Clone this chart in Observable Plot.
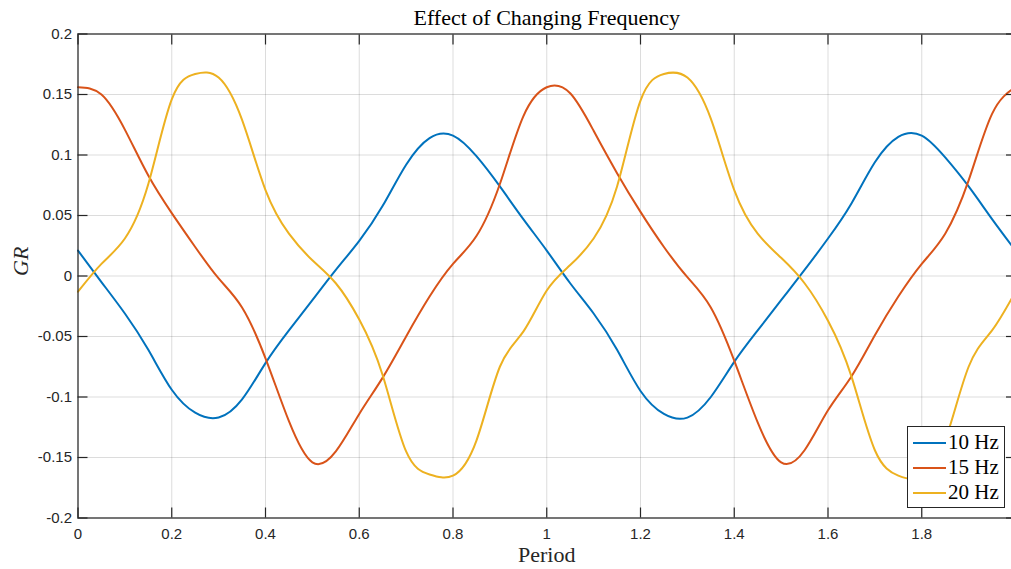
<!DOCTYPE html>
<html>
<head>
<meta charset="utf-8">
<script src="https://cdn.jsdelivr.net/npm/d3@7"></script>
<script src="https://cdn.jsdelivr.net/npm/@observablehq/plot@0.6"></script>
<style>
html, body { margin: 0; padding: 0; overflow: hidden; background: #fff; }
#chart { position: relative; width: 1020px; height: 569px; }
.legend { position: absolute; left: 907px; top: 426px; width: 98px; height: 82px; box-sizing: border-box;
  border: 1px solid #262626; background: #fff; padding-top: 3px; }
.legend .row { display: flex; align-items: center; height: 25px; }
.legend .sw { width: 33px; height: 2px; margin-left: 5px; margin-right: 2px; flex: none; }
.legend .lab { font-family: "Liberation Serif", serif; font-size: 21px; color: #000; line-height: 25px; white-space: nowrap; }
</style>
</head>
<body>
<div id="chart"></div>
<script>
// ---- data ----
const period = [0, 0.05, 0.1, 0.15, 0.2, 0.25, 0.3, 0.35, 0.4, 0.45, 0.5, 0.55, 0.6, 0.65, 0.7, 0.75, 0.8, 0.85, 0.9, 0.95,
  1.0, 1.05, 1.1, 1.15, 1.2, 1.25, 1.3, 1.35, 1.4, 1.45, 1.5, 1.55, 1.6, 1.65, 1.7, 1.75, 1.8, 1.85, 1.9, 1.95, 2.0];

const gr10Hz = [0.021, -0.005, -0.031, -0.061, -0.094, -0.113, -0.117, -0.102, -0.072, -0.045, -0.020, 0.005, 0.029, 0.058, 0.092, 0.114, 0.116, 0.099, 0.074, 0.047,
  0.021, -0.006, -0.031, -0.061, -0.095, -0.114, -0.117, -0.100, -0.071, -0.045, -0.020, 0.005, 0.031, 0.060, 0.094, 0.115, 0.116, 0.098, 0.074, 0.047, 0.021];

const gr15Hz = [0.156, 0.150, 0.121, 0.083, 0.052, 0.024, -0.002, -0.026, -0.068, -0.120, -0.154, -0.145, -0.114, -0.084, -0.050, -0.017, 0.010, 0.033, 0.076, 0.132,
  0.156, 0.151, 0.120, 0.085, 0.053, 0.024, -0.001, -0.026, -0.070, -0.121, -0.154, -0.144, -0.111, -0.083, -0.049, -0.017, 0.010, 0.035, 0.079, 0.134, 0.156];

const gr20Hz = [-0.013, 0.010, 0.031, 0.076, 0.146, 0.167, 0.164, 0.129, 0.071, 0.035, 0.013, -0.006, -0.036, -0.082, -0.145, -0.164, -0.165, -0.136, -0.075, -0.046,
  -0.012, 0.009, 0.031, 0.074, 0.145, 0.167, 0.164, 0.130, 0.071, 0.035, 0.015, -0.006, -0.037, -0.083, -0.144, -0.165, -0.166, -0.136, -0.075, -0.045, -0.013];

const seriesNames = ["10 Hz", "15 Hz", "20 Hz"];
const seriesColors = ["#0072BD", "#D95319", "#EDB120"];

const xTicks = [0, 0.2, 0.4, 0.6, 0.8, 1, 1.2, 1.4, 1.6, 1.8, 2];
const xTickLabels = ["0", "0.2", "0.4", "0.6", "0.8", "1", "1.2", "1.4", "1.6", "1.8", "2"];
const yTicks = [-0.2, -0.15, -0.1, -0.05, 0, 0.05, 0.1, 0.15, 0.2];
const yTickLabels = ["-0.2", "-0.15", "-0.1", "-0.05", "0", "0.05", "0.1", "0.15", "0.2"];

const titleText = "Effect of Changing Frequency";
const xLabel = "Period";
const yLabel = "GR";

// ---- build table ----
const seriesValues = [gr10Hz, gr15Hz, gr20Hz];
const rows = seriesNames.flatMap((name, i) =>
  period.map((p, j) => ({period: p, gr: seriesValues[i][j], series: name})));

const serif = "'Liberation Serif', 'Times New Roman', serif";
const axisColor = "#262626";

const chart = Plot.plot({
  width: 1020,
  height: 569,
  marginLeft: 77.5,
  marginRight: 5,
  marginTop: 33.5,
  marginBottom: 51.5,
  style: {fontFamily: "'Liberation Sans', Arial, sans-serif", fontSize: "15px", color: axisColor, background: "#fff"},
  x: {domain: [0, 2]},
  y: {domain: [-0.2, 0.2]},
  color: {domain: seriesNames, range: seriesColors},
  marks: [
    Plot.gridX(xTicks, {stroke: axisColor, strokeOpacity: 0.16, strokeWidth: 1}),
    Plot.gridY(yTicks, {stroke: axisColor, strokeOpacity: 0.16, strokeWidth: 1}),
    Plot.line(rows, {x: "period", y: "gr", z: "series", stroke: "series", curve: "natural", strokeWidth: 2}),
    Plot.frame({stroke: axisColor, strokeWidth: 1.2}),
    // inward tick marks on all four sides
    Plot.axisX(xTicks, {anchor: "bottom", tickSize: 10, dy: -10, fill: "none", label: null, stroke: axisColor, strokeWidth: 1.2}),
    Plot.axisX(xTicks, {anchor: "top", tickSize: 10, dy: 10, fill: "none", label: null, stroke: axisColor, strokeWidth: 1.2}),
    Plot.axisY(yTicks, {anchor: "left", tickSize: 10, dx: 10, fill: "none", label: null, stroke: axisColor, strokeWidth: 1.2}),
    Plot.axisY(yTicks, {anchor: "right", tickSize: 10, dx: -10, fill: "none", label: null, stroke: axisColor, strokeWidth: 1.2}),
    // tick labels
    Plot.axisX(xTicks, {anchor: "bottom", tickSize: 0, tickPadding: 10, label: null,
      tickFormat: d => xTickLabels[xTicks.indexOf(d)], fill: axisColor}),
    Plot.axisY(yTicks, {anchor: "left", tickSize: 0, tickPadding: 6, label: null,
      tickFormat: d => yTickLabels[yTicks.indexOf(d)], fill: axisColor}),
    // title and axis labels
    Plot.text([titleText], {frameAnchor: "top", lineAnchor: "bottom", dy: -9.5, fontSize: 22, fontFamily: serif, fill: "#000"}),
    Plot.text([xLabel], {frameAnchor: "bottom", lineAnchor: "bottom", dy: 44, fontSize: 22, fontFamily: serif, fill: axisColor}),
    Plot.text([yLabel], {frameAnchor: "left", lineAnchor: "middle", dx: -57.5, rotate: -90, fontSize: 22, fontStyle: "italic", fontFamily: serif, fill: axisColor})
  ]
});

const container = document.getElementById("chart");
container.appendChild(chart);

// legend (inside the plot area, bottom right)
const legend = document.createElement("div");
legend.className = "legend";
seriesNames.forEach((name, i) => {
  const row = document.createElement("div");
  row.className = "row";
  const sw = document.createElement("div");
  sw.className = "sw";
  sw.style.background = seriesColors[i];
  const lab = document.createElement("span");
  lab.className = "lab";
  lab.textContent = name;
  row.appendChild(sw);
  row.appendChild(lab);
  legend.appendChild(row);
});
container.appendChild(legend);
</script>
</body>
</html>
